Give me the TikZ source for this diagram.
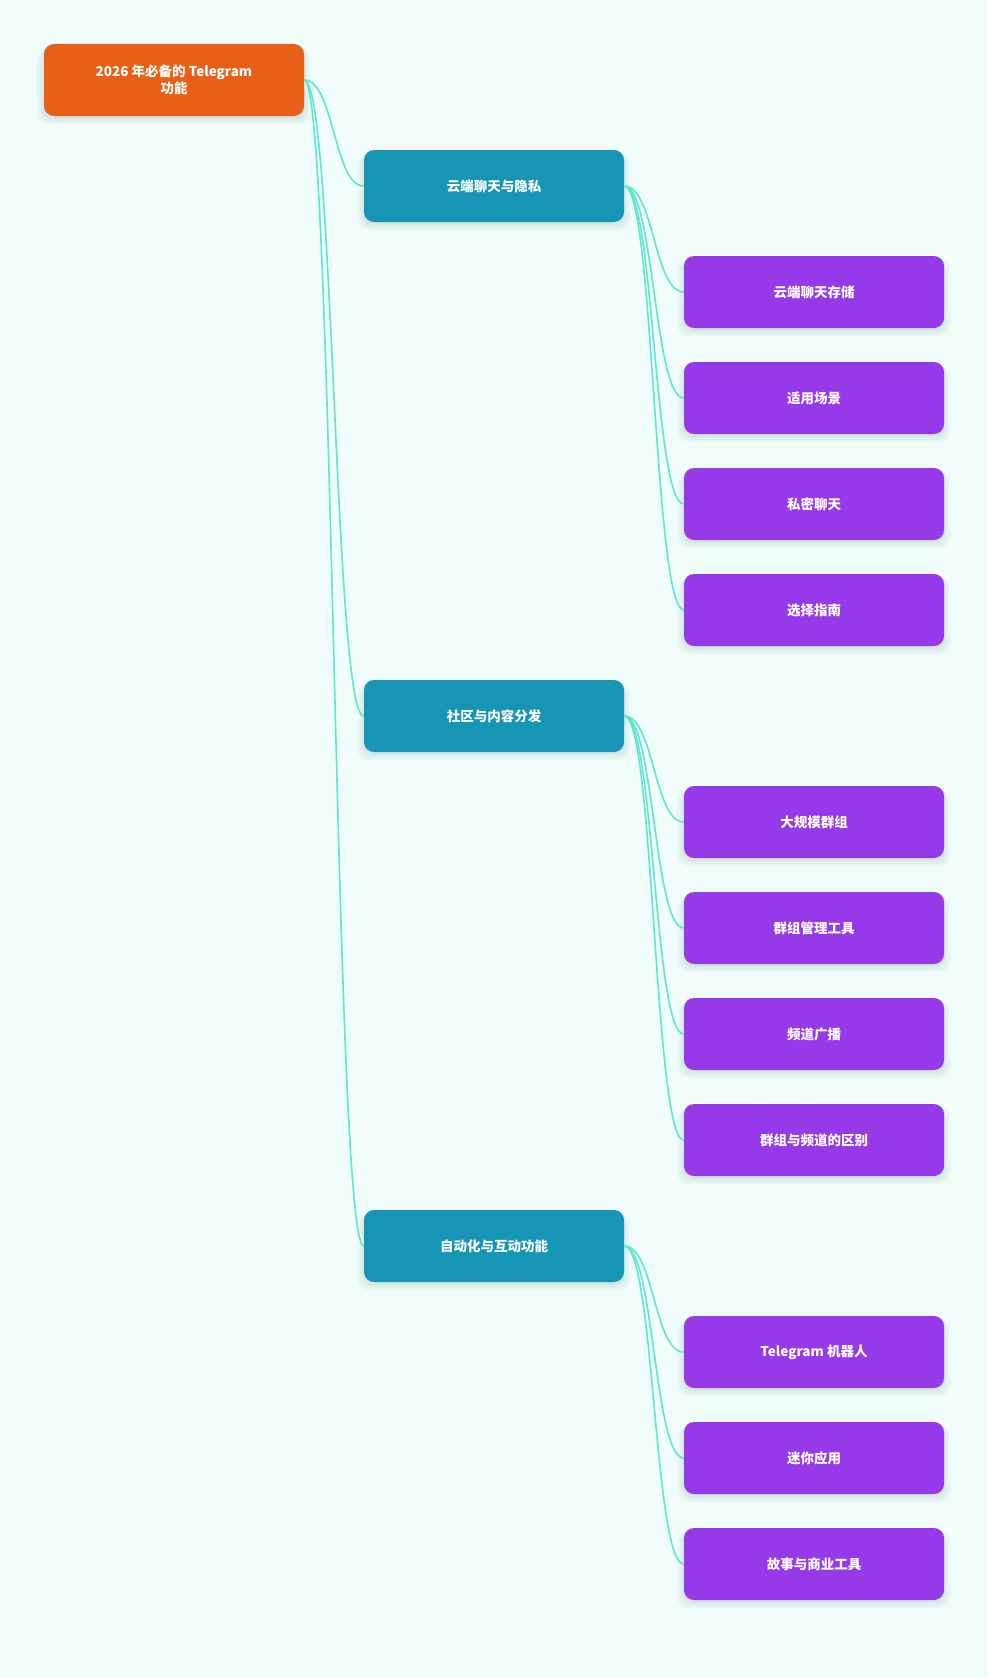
\documentclass[tikz,border=0pt]{standalone}
\usepackage{fontspec}
\setmainfont{Noto Sans CJK SC}
\usetikzlibrary{shadows}
\definecolor{bgmint}{HTML}{F0FDFA}
\definecolor{rootorange}{HTML}{EA5F17}
\definecolor{secteal}{HTML}{1795B5}
\definecolor{leafpurple}{HTML}{9639E8}
\definecolor{linkline}{HTML}{5EE6CF}
\definecolor{shadowgrey}{HTML}{2F5F5A}
\begin{document}
\begin{tikzpicture}[x=1pt,y=-1pt,
  box/.style={rectangle,rounded corners=10pt,minimum width=260pt,minimum height=72pt,
    inner sep=0pt,text=white,align=center,font=\fontsize{13.5}{17}\selectfont\bfseries,
    drop shadow={shadow xshift=0pt,shadow yshift=-6pt,shadow scale=1.05,opacity=0.035,fill=shadowgrey},
    drop shadow={shadow xshift=0pt,shadow yshift=-5pt,shadow scale=1.03,opacity=0.045,fill=shadowgrey},
    drop shadow={shadow xshift=0pt,shadow yshift=-3pt,shadow scale=1.01,opacity=0.05,fill=shadowgrey}},
  rootbox/.style={box,fill=rootorange},
  secbox/.style={box,fill=secteal},
  leafbox/.style={box,fill=leafpurple},
  link/.style={draw=linkline,line width=1.6pt}]
\fill[bgmint] (0,0) rectangle (988,1678);
\useasboundingbox (0,0) rectangle (988,1678);
% root
\node[rootbox] (root) at (174,80) {2026 年必备的 Telegram\\功能};
% sections
\node[secbox] (cloud) at (494,186) {云端聊天与隐私};
\node[secbox] (community) at (494,716) {社区与内容分发};
\node[secbox] (auto) at (494,1246) {自动化与互动功能};
% leaves
\node[leafbox] (storage) at (814,292) {云端聊天存储};
\node[leafbox] (scenes) at (814,398) {适用场景};
\node[leafbox] (secret) at (814,504) {私密聊天};
\node[leafbox] (guide) at (814,610) {选择指南};
\node[leafbox] (groups) at (814,822) {大规模群组};
\node[leafbox] (admin) at (814,928) {群组管理工具};
\node[leafbox] (channel) at (814,1034) {频道广播};
\node[leafbox] (diff) at (814,1140) {群组与频道的区别};
\node[leafbox] (bots) at (814,1352) {Telegram 机器人};
\node[leafbox] (miniapp) at (814,1458) {迷你应用};
\node[leafbox] (stories) at (814,1564) {故事与商业工具};
% links
\draw[link] (root.east) .. controls +(30,0) and +(-30,0) .. (cloud.west);
\draw[link] (root.east) .. controls +(30,0) and +(-30,0) .. (community.west);
\draw[link] (root.east) .. controls +(30,0) and +(-30,0) .. (auto.west);
\draw[link] (cloud.east) .. controls +(30,0) and +(-30,0) .. (storage.west);
\draw[link] (cloud.east) .. controls +(30,0) and +(-30,0) .. (scenes.west);
\draw[link] (cloud.east) .. controls +(30,0) and +(-30,0) .. (secret.west);
\draw[link] (cloud.east) .. controls +(30,0) and +(-30,0) .. (guide.west);
\draw[link] (community.east) .. controls +(30,0) and +(-30,0) .. (groups.west);
\draw[link] (community.east) .. controls +(30,0) and +(-30,0) .. (admin.west);
\draw[link] (community.east) .. controls +(30,0) and +(-30,0) .. (channel.west);
\draw[link] (community.east) .. controls +(30,0) and +(-30,0) .. (diff.west);
\draw[link] (auto.east) .. controls +(30,0) and +(-30,0) .. (bots.west);
\draw[link] (auto.east) .. controls +(30,0) and +(-30,0) .. (miniapp.west);
\draw[link] (auto.east) .. controls +(30,0) and +(-30,0) .. (stories.west);
\end{tikzpicture}
\end{document}
